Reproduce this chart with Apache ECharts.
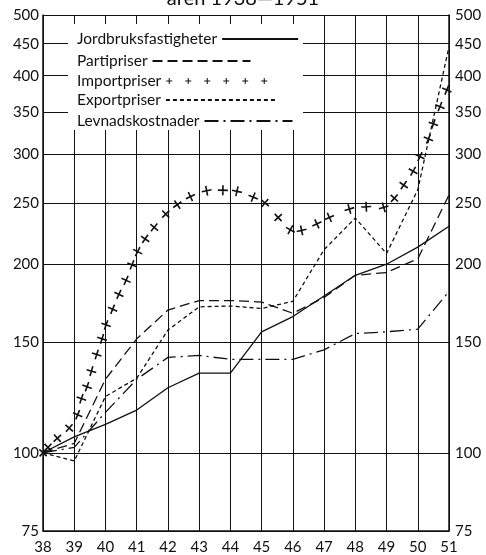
<!DOCTYPE html>
<html><head><meta charset="utf-8">
<script src="https://cdn.jsdelivr.net/npm/echarts@6/dist/echarts.min.js"></script>
<style>html,body{margin:0;padding:0;background:#fff}#c{width:486px;height:555px}</style>
</head><body><div id="c"></div>
<script>
// ---- data ----
const years = [38, 39, 40, 41, 42, 43, 44, 45, 46, 47, 48, 49, 50, 51];
const jordbruk = [100, 106, 111, 117, 127, 134, 134, 156, 165, 178, 192, 200, 213, 230];
const partipriser = [100, 103.5, 131, 152, 169, 175, 175, 174, 167, 177, 192, 194, 204, 258];
const exportpriser = [100, 97, 123, 131.5, 157, 171, 171.5, 170, 174.5, 211, 237, 208, 263, 445];
const levnad = [100, 102, 116, 131, 142, 143, 141, 141, 141, 146, 155, 156, 157.5, 181];
const importX = [38.0, 38.16, 38.46, 38.84, 39.11, 39.23, 39.41, 39.55, 39.72, 39.89, 40.02, 40.23, 40.43, 40.66, 40.85, 41.03, 41.27, 41.56, 41.93, 42.30, 42.72, 43.24, 43.76, 44.21, 44.73, 45.11, 45.53, 45.92, 46.28, 46.77, 47.17, 47.81, 48.35, 48.91, 49.25, 49.55, 49.85, 50.07, 50.34, 50.50, 50.71, 50.93];
const importY = [100, 102, 105.5, 109.5, 115, 122, 127.5, 135, 143.5, 152, 160, 169.5, 179, 188.5, 199.5, 209.5, 219.5, 229, 240.5, 249, 256.5, 262, 262.5, 261.5, 256, 250.5, 237.5, 227, 226.5, 232, 237.5, 245, 247, 246.5, 255, 267.5, 281.5, 297, 317, 335, 357, 379.5];
const yTicks = [75, 100, 150, 200, 250, 300, 350, 400, 450, 500];
const names = ['Jordbruksfastigheter', 'Partipriser', 'Importpriser', 'Exportpriser', 'Levnadskostnader'];
const titleText = 'åren 1938—1951';

// ---- style ----
const FONT = 'Lato';
const INK = '#111';
const plus = 'M-0.8,-5h1.6v10h-1.6z M-5,-0.8h10v1.6h-10z';
function plusRow(n, step, s) {
  let d = '';
  for (let i = 0; i < n; i++) {
    const c = s / 2 + i * step;
    d += `M${c - 0.5},0h1v${s}h-1z M${c - s / 2},${s / 2 - 0.5}h${s}v1h-${s}z `;
  }
  return 'path://' + d;
}
const pair = a => years.map((y, i) => [y, a[i]]);

const chart = echarts.init(document.getElementById('c'));

function yAxisCfg(pos) {
  return {
    type: 'log', logBase: 10, position: pos, min: 75, max: 500,
    axisLine: { show: true, lineStyle: { color: INK, width: 1.5 } },
    axisTick: { show: false, customValues: yTicks },
    axisLabel: { show: true, customValues: yTicks, fontSize: 15, color: INK, fontFamily: FONT, margin: pos === 'left' ? 4 : 6 },
    splitLine: { show: pos === 'left', lineStyle: { color: INK, width: 1 } },
    minorTick: { show: false }, minorSplitLine: { show: false }
  };
}

const legendRows = [
  { name: names[0], top: 31, w: 76, h: 2 },
  { name: names[1], top: 53, w: 98, h: 2 },
  { name: names[2], top: 73, w: 101, h: 6, icon: plusRow(6, 19, 6) },
  { name: names[3], top: 92, w: 110, h: 2 },
  { name: names[4], top: 113, w: 88, h: 2 }
];

const lineSeries = (name, arr, type) => ({
  name, type: 'line', data: pair(arr), symbol: 'none', smooth: false,
  lineStyle: { color: INK, width: 1.3, type: type },
  itemStyle: { color: INK }, z: 2, silent: true
});

const option = {
  animation: false,
  backgroundColor: '#fff',
  title: { text: titleText, left: 'center', top: -16, textStyle: { fontSize: 20, fontWeight: 'normal', color: INK, fontFamily: FONT } },
  grid: { left: 43, right: 37, top: 15, bottom: 24, containLabel: false },
  xAxis: {
    type: 'value', min: 38, max: 51, interval: 1,
    axisLine: { show: true, lineStyle: { color: INK, width: 1.5 } },
    axisTick: { show: false },
    axisLabel: { fontSize: 15, color: INK, fontFamily: FONT, margin: 9 },
    splitLine: { show: true, lineStyle: { color: INK, width: 1 } }
  },
  yAxis: [yAxisCfg('left'), yAxisCfg('right')],
  graphic: [{ type: 'rect', shape: { x: 68, y: 24, width: 235, height: 106 }, style: { fill: '#fff' }, z: 3, silent: true }],
  legend: legendRows.map(r => ({
    data: [r.icon ? { name: r.name, icon: r.icon } : r.name], left: 77, top: r.top, orient: 'horizontal', align: 'right',
    itemWidth: r.w, itemHeight: r.h, padding: 0, itemGap: 0, selectedMode: false, z: 5,
    textStyle: { fontSize: 15.5, color: INK, fontFamily: FONT },
    itemStyle: r.icon ? {} : { opacity: 0 }
  })),
  series: [
    lineSeries(names[0], jordbruk, 'solid'),
    lineSeries(names[1], partipriser, [10, 5]),
    {
      id: 'imp', name: names[2], type: 'scatter', data: importX.map((x, i) => [x, importY[i]]),
      symbol: 'path://' + plus, symbolSize: 10, symbolKeepAspect: true,
      itemStyle: { color: INK, opacity: 1 }, z: 2, silent: true
    },
    lineSeries(names[3], exportpriser, [4, 3]),
    lineSeries(names[4], levnad, [14, 5, 2, 5])
  ]
};
chart.setOption(option);

// orient each import cross along the local direction of travel (pixel space via the chart's own scales)
const px = importX.map((x, i) => chart.convertToPixel({ xAxisIndex: 0, yAxisIndex: 0 }, [x, importY[i]]));
const rot = px.map((p, i) => {
  const a = px[Math.max(0, i - 1)], b = px[Math.min(px.length - 1, i + 1)];
  return Math.atan2(-(b[1] - a[1]), b[0] - a[0]) * 180 / Math.PI;
});
chart.setOption({ series: [{ id: 'imp', data: importX.map((x, i) => ({ value: [x, importY[i]], symbolRotate: rot[i] })) }] });
</script>
</body></html>
